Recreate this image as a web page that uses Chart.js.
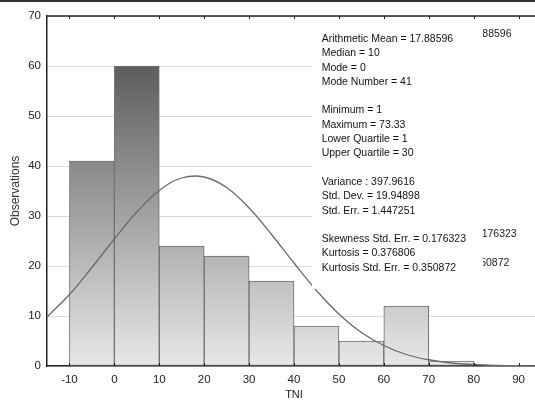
<!DOCTYPE html>
<html><head><meta charset="utf-8">
<script src="https://cdn.jsdelivr.net/npm/chart.js@4.4.1/dist/chart.umd.min.js"></script>
<style>
html,body{margin:0;padding:0;background:#fff;overflow:hidden;width:535px;height:405px}
#wrap{position:relative;width:545px;height:405px}
canvas{display:block}
</style></head><body><div id="wrap"><canvas id="c" width="545" height="405"></canvas></div>
<script>
// ---- data ----
const binCenters = [-5, 5, 15, 25, 35, 45, 55, 65, 75];
const counts = [41, 60, 24, 22, 17, 8, 5, 12, 1];
const curveX = [-15, -10, -5, 0, 5, 10, 15, 20, 25, 30, 35, 40, 45, 50, 55, 60, 65, 70, 75, 80, 85, 90, 95];
const curveY = [9.8, 14.3, 19.7, 25.4, 30.8, 35.1, 37.6, 37.8, 35.7, 31.6, 26.3, 20.6, 15.1, 10.4, 6.7, 4.1, 2.3, 1.25, 0.6, 0.3, 0.13, 0.05, 0.02];
const xTicks = [-10, 0, 10, 20, 30, 40, 50, 60, 70, 80, 90];
const yTicks = [0, 10, 20, 30, 40, 50, 60, 70];
const statLines = [
  'Arithmetic Mean = 17.88596', 'Median = 10', 'Mode = 0', 'Mode Number = 41', '',
  'Minimum = 1', 'Maximum = 73.33', 'Lower Quartile = 1', 'Upper Quartile = 30', '',
  'Variance : 397.9616', 'Std. Dev. = 19.94898', 'Std. Err. = 1.447251', '',
  'Skewness Std. Err. = 0.176323', 'Kurtosis = 0.376806', 'Kurtosis Std. Err. = 0.350872'
];
// lines of the partly hidden copy behind the box edge: [line index, right end x]
const ghostLines = [[0, 511.5], [14, 516.7], [16, 509.3]];
const xTitle = 'TNI';
const yTitle = 'Observations';

const FONT = '"Liberation Sans", Arial, sans-serif';

const overlay = {
  id: 'overlay',
  afterDatasetsDraw(chart) {
    const c = chart.ctx, a = chart.chartArea, xs = chart.scales.x;
    c.save();
    // frame line at top of picture
    c.fillStyle = '#2e2e2e';
    c.fillRect(0, 0, chart.width, 2);
    // top border of plot
    c.strokeStyle = '#222';
    c.lineWidth = 1.5;
    c.beginPath();
    c.moveTo(a.left, a.top); c.lineTo(a.right, a.top);
    c.stroke();
    c.lineWidth = 1;
    xTicks.forEach(v => {
      const px = Math.round(xs.getPixelForValue(v)) + 0.5;
      c.beginPath(); c.moveTo(px, a.top); c.lineTo(px, a.top + 3); c.stroke();
      c.beginPath(); c.moveTo(px, a.bottom); c.lineTo(px, a.bottom - 3); c.stroke();
    });
    // statistics box
    c.fillStyle = '#ffffff';
    c.fillRect(312, 24, chart.width - 312, 289 - 24);
    c.font = '10.8px ' + FONT;
    c.textBaseline = 'middle';
    const wSum = c.measureText(statLines[0]).width + c.measureText(statLines[14]).width + c.measureText(statLines[16]).width;
    const sx = (135.3 + 141.6 + 133.3) / wSum;
    const step = 14.3;
    // partially hidden underlying copy
    c.save();
    c.beginPath(); c.rect(483, 20, chart.width - 483, 270); c.clip();
    c.fillStyle = '#1a1a1a';
    c.textAlign = 'right';
    ghostLines.forEach(([i, xe]) => {
      c.save();
      c.translate(xe, 39 + step * i - 5);
      c.scale(sx, 1);
      c.fillText(statLines[i], 0, 0);
      c.restore();
    });
    c.restore();
    // main text
    c.save();
    c.textAlign = 'left';
    c.fillStyle = '#111';
    c.translate(321.7, 0);
    c.scale(sx, 1);
    statLines.forEach((t, i) => { if (t) c.fillText(t, 0, 39 + step * i); });
    c.restore();
    c.restore();
  }
};

new Chart(document.getElementById('c'), {
  type: 'bar',
  data: {
    datasets: [
      {
        type: 'line',
        data: curveX.map((x, i) => ({ x, y: curveY[i] })),
        borderColor: '#6a6a6a',
        borderWidth: 1.3,
        pointRadius: 0,
        tension: 0.4,
        fill: false,
        order: 0
      },
      {
        type: 'bar',
        data: binCenters.map((x, i) => ({ x, y: counts[i] })),
        backgroundColor: (ctx) => {
          const ch = ctx.chart, a = ch.chartArea;
          if (!a) return '#999';
          const g = ch.ctx.createLinearGradient(0, a.top, 0, a.bottom);
          g.addColorStop(0, '#464646');
          g.addColorStop(1, '#e8e8e8');
          return g;
        },
        borderColor: '#6e6e6e',
        borderWidth: 1,
        borderSkipped: false,
        barPercentage: 1,
        categoryPercentage: 1,
        grouped: false,
        order: 1
      }
    ]
  },
  options: {
    responsive: false,
    animation: false,
    events: [],
    layout: { padding: { top: 16, right: 4, left: 0, bottom: 0 } },
    plugins: { legend: { display: false }, tooltip: { enabled: false } },
    scales: {
      x: {
        type: 'linear', min: -15, max: 95, offset: false,
        afterBuildTicks: s => { s.ticks = xTicks.map(v => ({ value: v })); },
        afterFit: s => { s.height = 39; },
        grid: { display: false, drawTicks: false },
        border: { display: true, color: '#222', width: 1.5 },
        ticks: { font: { family: FONT, size: 11.5 }, color: '#222', padding: 7, maxRotation: 0, autoSkip: false },
        title: { display: true, text: xTitle, font: { family: FONT, size: 11 }, color: '#222', padding: { top: 0, bottom: 3 } }
      },
      y: {
        min: 0, max: 70,
        afterBuildTicks: s => { s.ticks = yTicks.map(v => ({ value: v })); },
        afterFit: s => { s.width = 47; },
        grid: { color: '#dcdcdc', lineWidth: 1, drawTicks: false },
        border: { display: true, color: '#222', width: 1.5 },
        ticks: { font: { family: FONT, size: 11.5 }, color: '#222', padding: 6 },
        title: { display: true, text: yTitle, font: { family: FONT, size: 12 }, color: '#333', padding: { top: 8, bottom: 0 } }
      }
    }
  },
  plugins: [overlay]
});
</script></body></html>
